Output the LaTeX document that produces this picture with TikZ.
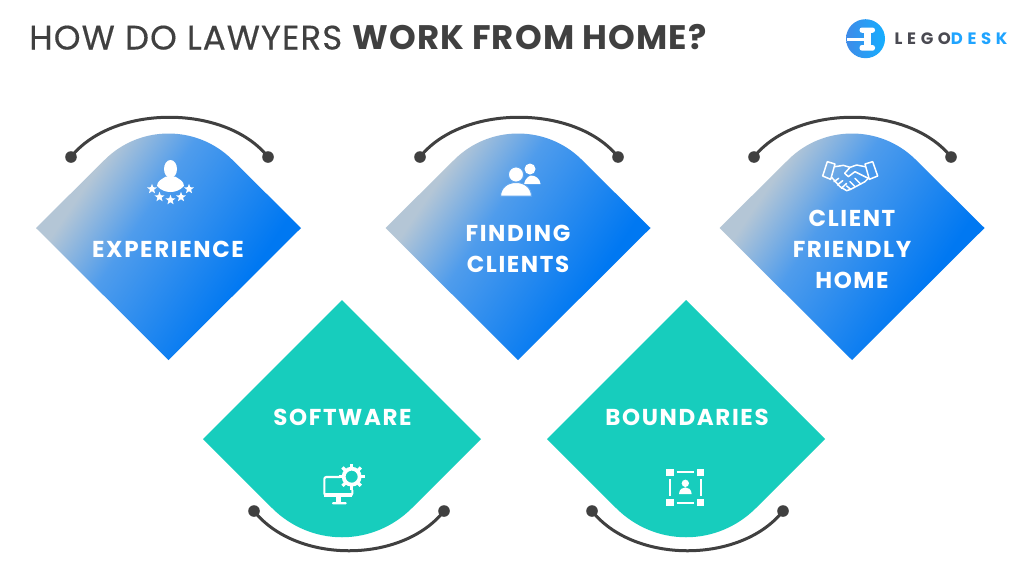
\documentclass[tikz,border=0pt]{standalone}
\usepackage{fontspec}
\setmainfont{Poppins}
\newfontfamily\titlefont[LetterSpace=3.2,FakeBold=0.35]{Poppins}
\newfontfamily\titleboldfont[LetterSpace=3.2]{Poppins Bold}
\newfontfamily\labelfont[LetterSpace=7]{Poppins}
\newfontfamily\logofont[LetterSpace=28]{Poppins}
\definecolor{inkdark}{HTML}{404040}
\definecolor{tealfill}{HTML}{17CDBD}
\definecolor{gradA}{HTML}{B4C6D6}
\definecolor{gradB}{HTML}{4F9CEC}
\definecolor{gradC}{HTML}{0078F2}
\definecolor{logoA}{HTML}{3F8BE8}
\definecolor{logoB}{HTML}{15AEFF}
\definecolor{logoText}{HTML}{4A4A52}
\definecolor{logoBlue}{HTML}{1FA4FF}
\pgfdeclarehorizontalshading{bluegrad}{100bp}{color(0bp)=(gradA); color(30bp)=(gradA); color(43bp)=(gradB); color(67bp)=(gradC); color(100bp)=(gradC)}
\tikzset{
  bluediamond/.pic={\shade[shading=bluegrad,shading angle=-34]
     (-132.5,0) -- (-63,-69) .. controls (-28,-103) and (28,-103) .. (63,-69) -- (132.5,0) -- (0,132) -- cycle;},
  tealdiamond/.pic={\fill[tealfill]
     (-139,0) -- (-70,69) .. controls (-31,108) and (31,108) .. (70,69) -- (139,0) -- (0,-139) -- cycle;},
  arcline/.style={draw=inkdark,line width=3pt},
  arcdot/.style={fill=inkdark},
  lab/.style={text=white,align=center,inner sep=0pt,font=\labelfont\bfseries\fontsize{23}{31}\selectfont},
  iconline/.style={draw=white,line width=1.5pt,line cap=round,line join=round},
}
\newcommand\tinystar[2]{\fill[white,shift={(#1,#2)}] (270:5.2)--(306:2.2)--(342:5.2)--(18:2.2)--(54:5.2)--(90:2.2)--(126:5.2)--(162:2.2)--(198:5.2)--(234:2.2)--cycle;}
\begin{document}
\begin{tikzpicture}[x=1pt,y=-1pt]
\useasboundingbox (0,0) rectangle (1024,576);
\fill[white] (0,0) rectangle (1024,576);

% title
\node[anchor=base west,inner sep=0pt,text=inkdark,font=\titlefont\fontsize{34}{36}\selectfont] (title) at (29,49.5) {HOW DO LAWYERS {\titleboldfont WORK FROM HOME?}};

% logo
\shade[left color=logoA,right color=logoB] (865.5,38.7) circle[radius=19.5];
\fill[white,rounded corners=2.5pt] (859.5,27.5) rectangle (875,32.8);
\fill[white,rounded corners=2.5pt] (859.5,45) rectangle (875,50.7);
\fill[white] (863.5,32) rectangle (870.5,45.5);
\fill[white] (846.5,38.3) rectangle (864,41.4);
\node[anchor=base west,inner sep=0pt,font=\logofont\bfseries\fontsize{16.5}{18}\selectfont] (logo) at (894.5,44.3) {\textcolor{logoText}{LEGO}\textcolor{logoBlue}{DESK}};

% diamonds
\pic at (168.5,228) {bluediamond};
\pic at (518,228) {bluediamond};
\pic at (852,228) {bluediamond};
\pic at (342,439) {tealdiamond};
\pic at (686,439) {tealdiamond};

% arcs
\coordinate (a1l) at (71,157);  \coordinate (a1r) at (268,157);
\coordinate (a2l) at (420,157); \coordinate (a2r) at (618,157);
\coordinate (a3l) at (754,157); \coordinate (a3r) at (951,157);
\coordinate (b1l) at (254,511); \coordinate (b1r) at (444,511);
\coordinate (b2l) at (592,511); \coordinate (b2r) at (783,511);
\foreach \l/\r in {a1l/a1r,a2l/a2r,a3l/a3r}{
  \draw[arcline] (\l) .. controls +(42,-53) and +(-42,-53) .. (\r);
  \fill[arcdot] (\l) circle[radius=5.8];
  \fill[arcdot] (\r) circle[radius=5.8];
}
\foreach \l/\r in {b1l/b1r,b2l/b2r}{
  \draw[arcline] (\l) .. controls +(42,53) and +(-42,53) .. (\r);
  \fill[arcdot] (\l) circle[radius=5.8];
  \fill[arcdot] (\r) circle[radius=5.8];
}

% labels
\node[lab] (experience) at (168,249) {EXPERIENCE};
\node[lab] (finding) at (518,249) {FINDING\\CLIENTS};
\node[lab] (friendly) at (852,249) {CLIENT\\FRIENDLY\\HOME};
\node[lab] (software) at (342.5,417) {SOFTWARE};
\node[lab] (boundaries) at (687,417) {BOUNDARIES};

% icon: person with stars
\fill[white] (170.5,169) ellipse[x radius=6.5,y radius=9];
\fill[white] (157,186) .. controls (157,181) and (162,179) .. (166,176.5) -- (175,176.5) .. controls (179,179) and (184,181) .. (184,186) .. controls (180,190.5) and (175,192) .. (170.5,192) .. controls (166,192) and (161,190.5) .. (157,186) -- cycle;
\tinystar{152}{189}\tinystar{159.5}{197}\tinystar{170.5}{200}\tinystar{181}{197}\tinystar{189}{189}

% icon: two people
\fill[white] (530,169) circle[radius=5.5];
\fill[white] (524,184) .. controls (525,178) and (530,175.5) .. (531,175.5) .. controls (536,175.5) and (540,179) .. (540.5,184) -- cycle;
\fill[white,draw=gradB!90!white,line width=1pt] (516,174.5) circle[radius=7.6];
\fill[white,draw=gradB!90!white,line width=1pt] (500.5,196) .. controls (501,187) and (508,182.5) .. (516,182.5) .. controls (524,182.5) and (531,187) .. (531.5,196) -- cycle;

% icon: handshake
\begin{scope}[shift={(800,150)},x=0.3333pt,y=-0.3333pt]
\draw[iconline] (82,35) -- (105,42) -- (92,88) -- (68,78) -- cycle;
\draw[iconline] (195,42) -- (218,35) -- (233,78) -- (208,88) -- cycle;
\draw[iconline] (105,50) -- (130,46) -- (150,52);
\draw[iconline] (195,50) -- (170,45) -- (150,52) -- (134,70) -- (145,80) -- (165,65) -- (205,85);
\draw[iconline] (95,82) -- (102,90) -- (120,110) -- (140,122) -- (152,118) -- (195,95) -- (205,85);
\draw[iconline] (102,95) -- (116,85);
\draw[iconline] (112,105) -- (128,92);
\draw[iconline] (124,115) -- (140,100);
\draw[iconline] (152,118) -- (140,108);
\draw[iconline] (165,110) -- (150,95);
\draw[iconline] (182,102) -- (165,85);
\end{scope}

% icon: monitor with gear
\begin{scope}[shift={(310,455)},x=0.3333pt,y=-0.3333pt]
\draw[white,line width=2.1pt,line join=round,rounded corners=2pt,line cap=round] (90,66) -- (43,66) -- (43,121) -- (127,121) -- (127,106);
\fill[white] (43,115) rectangle (127,127);
\fill[white] (78,127) rectangle (94,142);
\fill[white,rounded corners=1pt] (66,141) rectangle (110,148);
\draw[white,line width=3.8pt] (125,65) circle[radius=24];
\foreach \a in {0,45,...,315}{\draw[white,line width=3.2pt] (125,65) ++(\a:26) -- ++(\a:13);}
\end{scope}

% icon: boundaries
\begin{scope}[shift={(650,455)},x=0.3333pt,y=-0.3333pt]
\foreach \p/\q in {60/52,152/52,60/143,152/143}{\fill[white] (\p-11,\q-11) rectangle (\p+11,\q+11);}
\draw[white,line width=1.9pt] (80,50) -- (133,50);
\draw[white,line width=1.9pt] (80,143) -- (133,143);
\draw[white,line width=1.9pt] (60,72) -- (60,122);
\draw[white,line width=1.9pt] (152,72) -- (152,122);
\fill[white] (106,85) circle[radius=11];
\fill[white] (87,117) .. controls (88,103) and (97,97) .. (106,97) .. controls (115,97) and (124,103) .. (125,117) -- cycle;
\end{scope}
\end{tikzpicture}
\end{document}
